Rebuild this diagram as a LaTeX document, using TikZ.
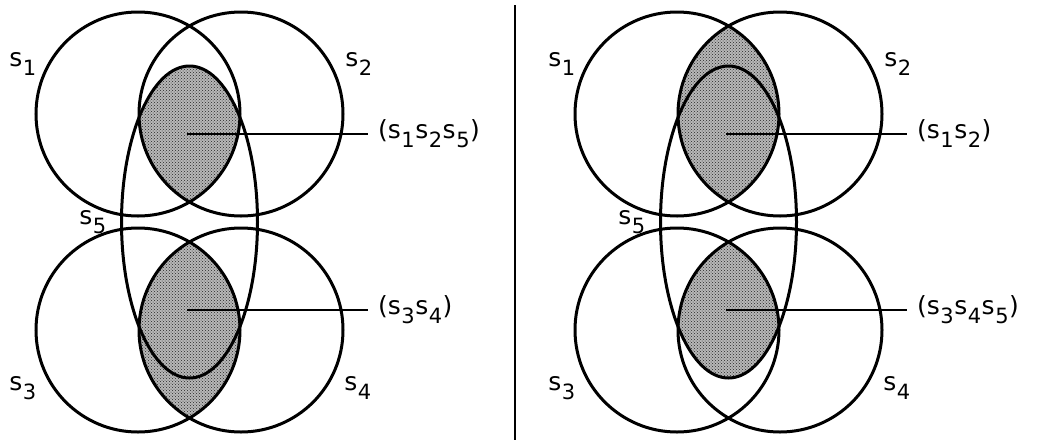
\documentclass[tikz,border=0pt]{standalone}
\usepackage{fontspec}
\setmainfont{DejaVu Sans}
\usetikzlibrary{patterns}
\newcommand\sv[1]{s\kern0.5pt\raisebox{-9pt}{\fontsize{21}{21}\selectfont #1}\kern0.5pt}
\begin{document}
\begin{tikzpicture}[x=1pt,y=-1pt,
  ring/.style={line width=3pt},
  lead/.style={line width=2pt},
  dotfill/.style={fill=black!28, postaction={pattern=crosshatch dots, pattern color=black!85}},
  lab/.style={font=\fontsize{25}{25}\selectfont, inner sep=0pt},
  tag/.style={font=\fontsize{25}{25}\selectfont, anchor=west, inner xsep=10pt, inner ysep=0pt}]
\useasboundingbox (0,0) rectangle (1037,440);

% ---------------- left panel ----------------
\begin{scope}
  \begin{scope}
    \clip (138,114) circle[radius=102pt];
    \clip (241,114) circle[radius=102pt];
    \path[dotfill] (189.5,222) ellipse[x radius=68pt, y radius=156pt];
  \end{scope}
  \begin{scope}
    \clip (138,330) circle[radius=102pt];
    \path[dotfill] (241,330) circle[radius=102pt];
  \end{scope}
  \draw[ring] (138,114) circle[radius=102pt];
  \draw[ring] (241,114) circle[radius=102pt];
  \draw[ring] (138,330) circle[radius=102pt];
  \draw[ring] (241,330) circle[radius=102pt];
  \draw[ring] (189.5,222) ellipse[x radius=68pt, y radius=156pt];
  \node[lab] (La1) at (23,64) {\sv{1}};
  \node[lab] (La2) at (359,64) {\sv{2}};
  \node[lab] (La5) at (93,222) {\sv{5}};
  \node[lab] (La3) at (23,388) {\sv{3}};
  \node[lab] (La4) at (358,388) {\sv{4}};
  \coordinate (Lc1) at (187,134);
  \coordinate (Lc2) at (187,310);
  \node[tag] (Lt1) at (368,134) {(\sv{1}\sv{2}\sv{5})};
  \node[tag] (Lt2) at (368,310) {(\sv{3}\sv{4})};
  \draw[lead] (Lc1) -- (Lt1.west);
  \draw[lead] (Lc2) -- (Lt2.west);
\end{scope}

% ---------------- divider ----------------
\coordinate (dtop) at (515,5);
\coordinate (dbot) at (515,440);
\draw[line width=2pt] (dtop) -- (dbot);

% ---------------- right panel ----------------
\begin{scope}[shift={(539,0)}]
  \begin{scope}
    \clip (138,114) circle[radius=102pt];
    \path[dotfill] (241,114) circle[radius=102pt];
  \end{scope}
  \begin{scope}
    \clip (138,330) circle[radius=102pt];
    \clip (241,330) circle[radius=102pt];
    \path[dotfill] (189.5,222) ellipse[x radius=68pt, y radius=156pt];
  \end{scope}
  \draw[ring] (138,114) circle[radius=102pt];
  \draw[ring] (241,114) circle[radius=102pt];
  \draw[ring] (138,330) circle[radius=102pt];
  \draw[ring] (241,330) circle[radius=102pt];
  \draw[ring] (189.5,222) ellipse[x radius=68pt, y radius=156pt];
  \node[lab] (Ra1) at (23,64) {\sv{1}};
  \node[lab] (Ra2) at (359,64) {\sv{2}};
  \node[lab] (Ra5) at (93,222) {\sv{5}};
  \node[lab] (Ra3) at (23,388) {\sv{3}};
  \node[lab] (Ra4) at (358,388) {\sv{4}};
  \coordinate (Rc1) at (187,134);
  \coordinate (Rc2) at (187,310);
  \node[tag] (Rt1) at (368,134) {(\sv{1}\sv{2})};
  \node[tag] (Rt2) at (368,310) {(\sv{3}\sv{4}\sv{5})};
  \draw[lead] (Rc1) -- (Rt1.west);
  \draw[lead] (Rc2) -- (Rt2.west);
\end{scope}
\end{tikzpicture}
\end{document}
